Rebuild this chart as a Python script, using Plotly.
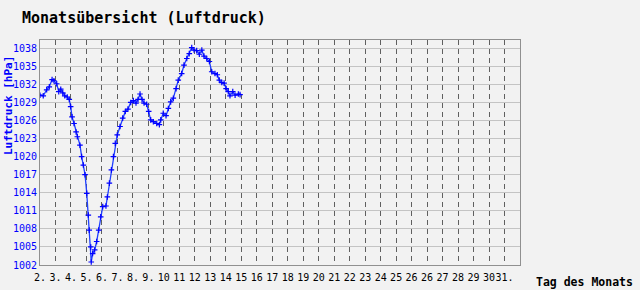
import plotly.graph_objects as go

# Day offsets from the left edge of the chart (0 = "2.") and pressure in hPa
days = [0.00, 0.21, 0.43, 0.60, 0.78, 0.90, 1.08, 1.21, 1.34, 1.47, 1.60, 1.76, 1.89,
        1.98, 2.07, 2.20, 2.33, 2.41, 2.58, 2.69, 2.80, 2.91, 3.02, 3.12, 3.18, 3.28,
        3.31, 3.40, 3.53, 3.66, 3.79, 3.92, 4.05, 4.26, 4.35, 4.48, 4.61, 4.74, 4.86,
        4.99, 5.17, 5.34, 5.51, 5.68, 5.86, 6.03, 6.20, 6.33, 6.46, 6.59, 6.72, 6.89,
        7.02, 7.15, 7.32, 7.54, 7.71, 7.80, 7.96, 8.14, 8.29, 8.44, 8.61, 8.79, 8.93,
        9.15, 9.30, 9.48, 9.64, 9.80, 9.95, 10.12, 10.29, 10.45, 10.59, 10.77, 10.94,
        11.09, 11.30, 11.45, 11.58, 11.74, 11.89, 12.02, 12.16, 12.27, 12.45, 12.60,
        12.81, 12.92]
pressure = [1030.2, 1030.1, 1031.1, 1031.6, 1032.8, 1032.6, 1032.1, 1030.8, 1031.2,
            1030.6, 1030.1, 1029.9, 1029.5, 1028.3, 1026.6, 1025.5, 1024.1, 1023.3,
            1021.9, 1020.0, 1018.6, 1017.0, 1013.9, 1010.3, 1007.8, 1005.0, 1002.5,
            1003.9, 1004.5, 1005.9, 1007.8, 1010.0, 1011.7, 1011.8, 1013.3, 1015.6,
            1017.8, 1020.0, 1022.2, 1023.6, 1025.0, 1026.4, 1027.5, 1027.9, 1029.0,
            1029.3, 1028.9, 1029.5, 1030.4, 1029.5, 1028.9, 1028.7, 1027.5, 1026.1,
            1025.8, 1025.5, 1025.3, 1026.1, 1027.2, 1026.8, 1028.0, 1029.1, 1029.7,
            1031.3, 1032.7, 1033.8, 1035.2, 1036.3, 1037.1, 1038.1, 1037.7, 1037.6,
            1037.0, 1037.7, 1036.7, 1036.3, 1035.8, 1034.1, 1033.8, 1033.6, 1032.7,
            1032.3, 1032.2, 1031.3, 1030.8, 1030.1, 1030.8, 1030.2, 1030.4, 1030.3]

x_tick_labels = ["2.", "3.", "4.", "5.", "6.", "7.", "8.", "9.", "10", "11", "12", "13",
                 "14", "15", "16", "17", "18", "19", "20", "21", "22", "23", "24", "25",
                 "26", "26", "27", "28", "29", "30", "31."]
y_ticks = [1002, 1005, 1008, 1011, 1014, 1017, 1020, 1023, 1026, 1029, 1032, 1035, 1038]

MONO = "DejaVu Sans Mono"

fig = go.Figure()
fig.add_trace(go.Scatter(
    x=days, y=pressure, mode="lines+markers",
    line=dict(color="#2040ff", width=1.3),
    marker=dict(symbol="cross-thin", size=4, line=dict(color="#0000ff", width=1.2)),
    hoverinfo="skip", showlegend=False,
))

fig.update_layout(
    width=640, height=290,
    margin=dict(l=40, r=120, t=40, b=25),
    paper_bgcolor="#f2f2f2", plot_bgcolor="#f2f2f2",
    font=dict(family=MONO),
    annotations=[
        dict(text="Monatsübersicht (Luftdruck)", xref="paper", yref="paper",
             x=-0.0417, y=1.098, xanchor="left", yanchor="middle", showarrow=False,
             font=dict(family=MONO, size=15, color="#000000", weight="bold")),
        dict(text="Luftdruck [hPa]", xref="paper", yref="paper", textangle=-90,
             x=-0.0667, y=0.711, xanchor="center", yanchor="middle", showarrow=False,
             font=dict(family=MONO, size=11, color="#0000ff", weight="bold")),
        dict(text="Tag des Monats", xref="paper", yref="paper",
             x=1.135, y=-0.0756, xanchor="center", yanchor="middle", showarrow=False,
             font=dict(family=MONO, size=11.5, color="#000000", weight="bold")),
    ],
)

fig.update_xaxes(
    range=[0, 31], tickmode="array", tickvals=list(range(len(x_tick_labels))),
    ticktext=x_tick_labels, showgrid=True, gridcolor="#606060", griddash="5px,4px",
    gridwidth=1, showline=True, linecolor="#909090", linewidth=1, mirror=True,
    zeroline=False, ticks="", tickfont=dict(family=MONO, size=10, color="#000000"),
    ticklabelstandoff=3, tickangle=0, automargin=False,
)
fig.update_yaxes(
    range=[1002, 1039.37], tickmode="array", tickvals=y_ticks,
    ticktext=[str(v) for v in y_ticks], showgrid=True, gridcolor="#c4c4c4",
    gridwidth=1, showline=True, linecolor="#909090", linewidth=1, mirror=True,
    zeroline=False, ticks="", tickfont=dict(family=MONO, size=10, color="#0000ff"),
    ticklabelstandoff=0, automargin=False,
)

fig.write_html("out.html")
